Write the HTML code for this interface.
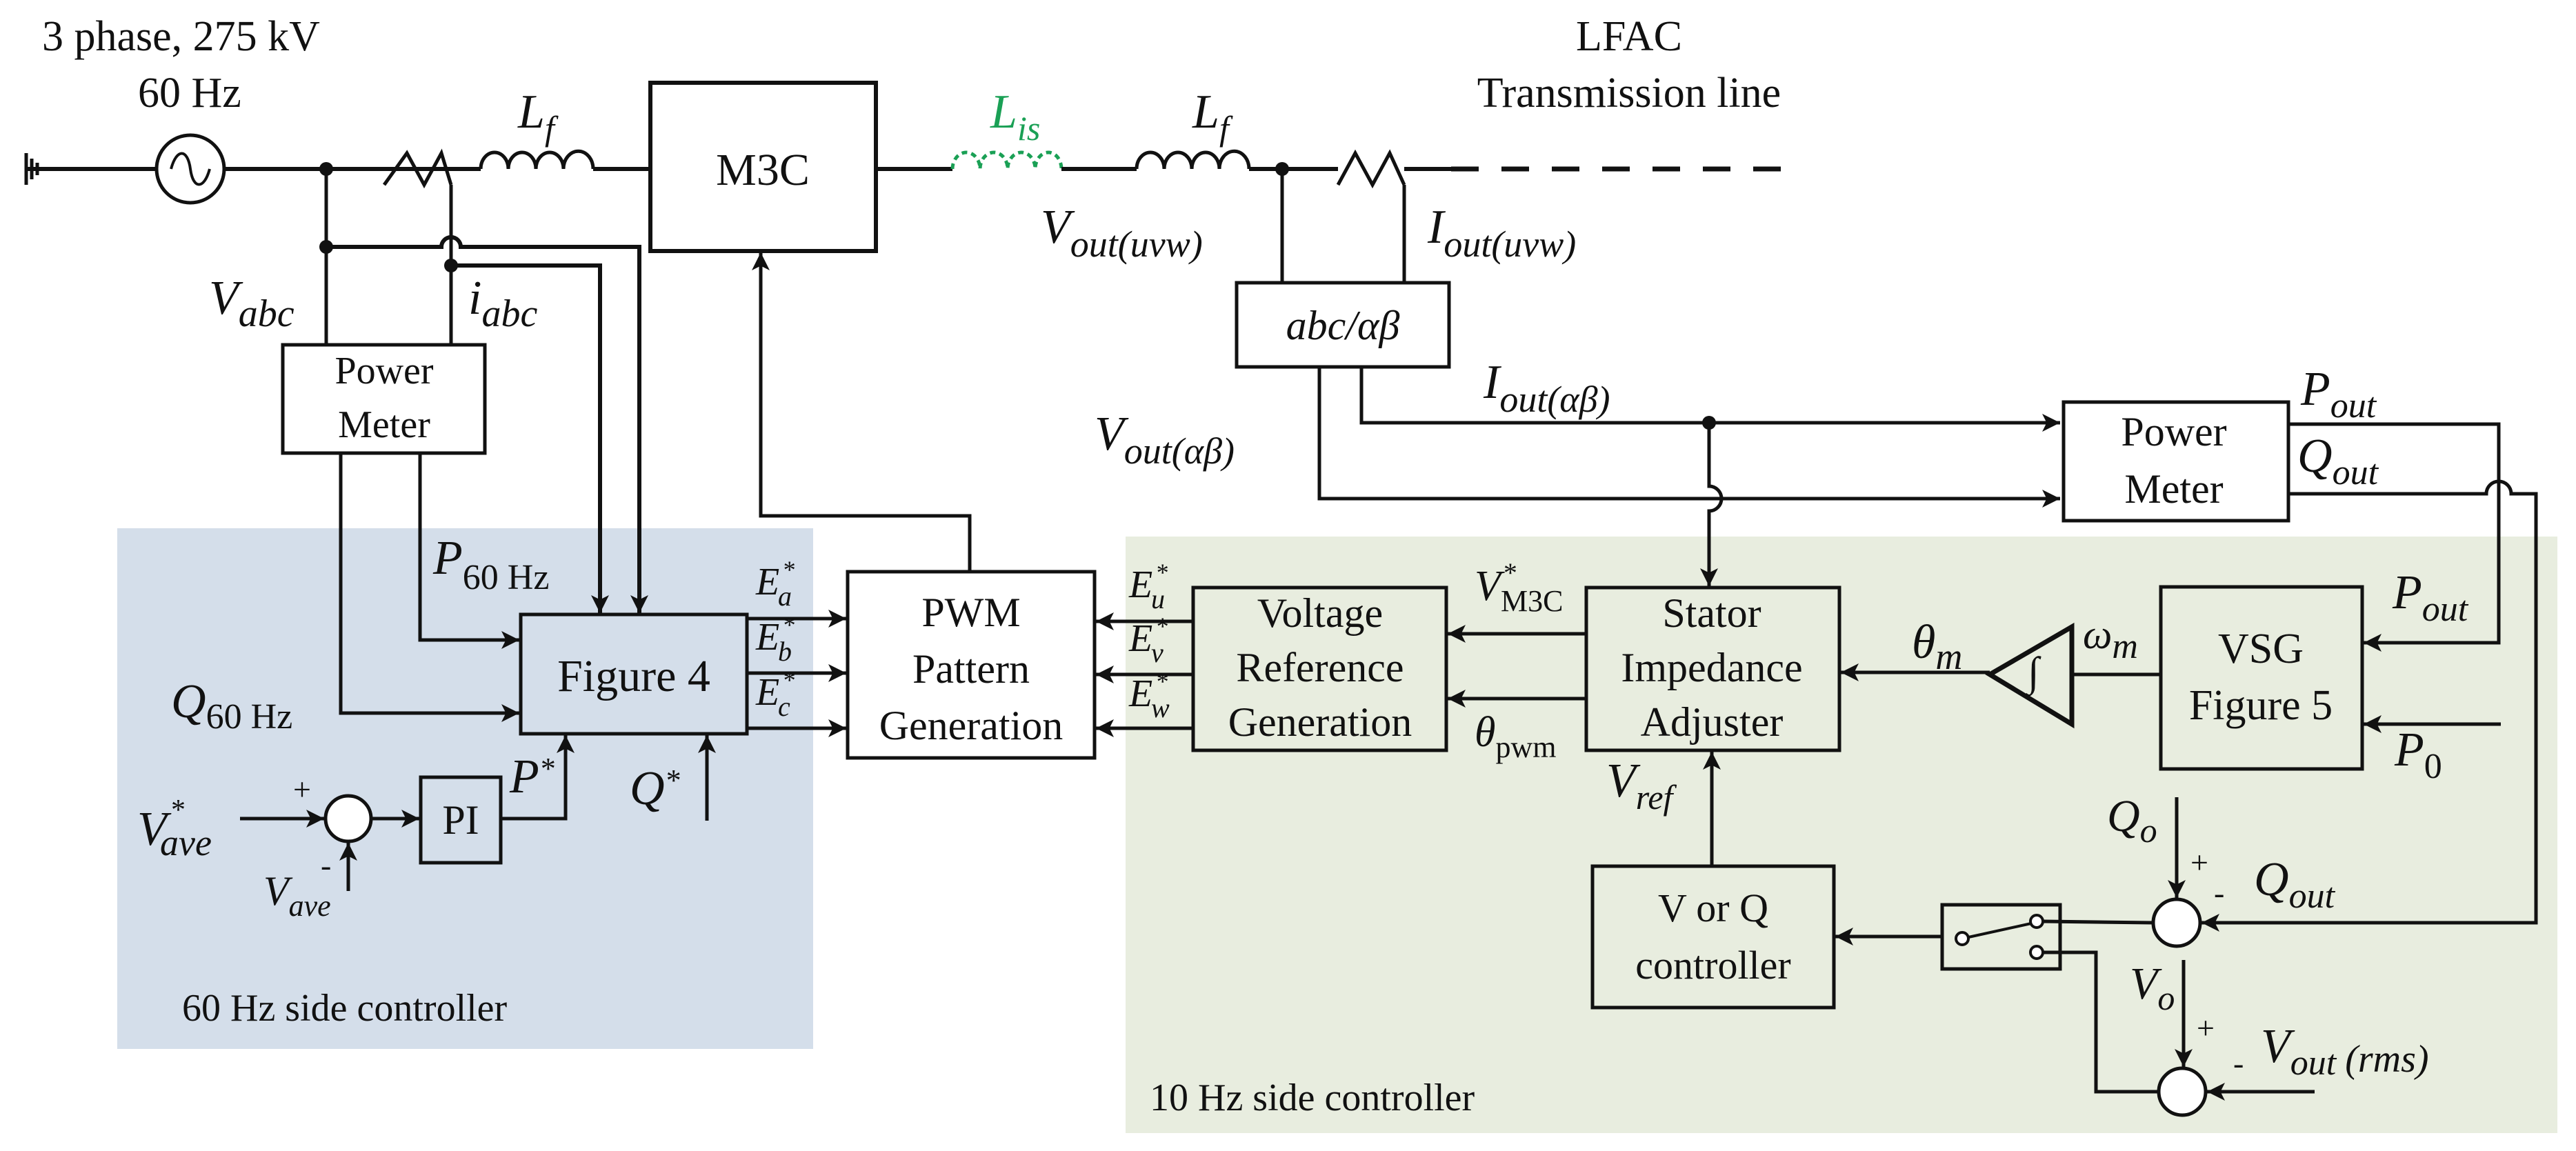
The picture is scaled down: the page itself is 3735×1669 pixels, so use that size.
<!DOCTYPE html>
<html><head><meta charset="utf-8"><style>
html,body{margin:0;padding:0;background:#fff}
svg{display:block}
text{font-family:"Liberation Serif","DejaVu Serif",serif;fill:#111}
.i{font-style:italic}
</style></head><body>
<svg width="3735" height="1669" viewBox="0 0 3735 1669" xmlns="http://www.w3.org/2000/svg" font-family="Liberation Serif, DejaVu Serif, serif">
<defs>
<marker id="a" viewBox="0 0 10 10" refX="10" refY="5" markerWidth="34" markerHeight="26" markerUnits="userSpaceOnUse" orient="auto"><path d="M0,0 L10,5 L0,10 L2.5,5 z" fill="#111"/></marker>
</defs>
<rect x="170" y="766" width="1009" height="755" fill="#d4deea"/>
<rect x="1632" y="778" width="2076" height="865" fill="#e8eddf"/>

<g stroke="#111" stroke-width="5" fill="none">
<line x1="38" y1="222" x2="38" y2="268"/><line x1="46" y1="230" x2="46" y2="260"/><line x1="54" y1="236" x2="54" y2="254"/>
<line x1="38" y1="245" x2="226" y2="245" stroke-width="6"/>
<circle cx="276" cy="245" r="49"/>
<path d="M248,245 C256,215 272,215 276,245 C280,275 296,275 304,245" stroke-width="4"/>
<line x1="325" y1="245" x2="697" y2="245" stroke-width="6"/>
<path d="M557,268 L590,222 L615,268 L640,222 L654,268"/>
<path d="M697,245 a20,24 0 0 1 40,0 a20,24 0 0 1 40,0 a20,24 0 0 1 40,0 a20,24 0 0 1 43,0" stroke-width="5"/>
<line x1="860" y1="245" x2="943" y2="245" stroke-width="6"/>
<rect x="943" y="120" width="327" height="244" stroke-width="6"/>
<line x1="1270" y1="245" x2="1381" y2="245" stroke-width="6"/>
<path d="M1381,245 a20,24 0 0 1 40,0 a20,24 0 0 1 40,0 a20,24 0 0 1 40,0 a19,24 0 0 1 38,0" stroke="#1aa055" stroke-dasharray="8,6" stroke-width="5"/>
<line x1="1539" y1="245" x2="1648" y2="245" stroke-width="6"/>
<path d="M1648,245 a20,24 0 0 1 40,0 a20,24 0 0 1 40,0 a20,24 0 0 1 40,0 a20,24 0 0 1 43,0"/>
<line x1="1811" y1="245" x2="1940" y2="245" stroke-width="6"/>
<path d="M1940,268 L1965,222 L1990,268 L2015,222 L2036,268"/>
<line x1="2036" y1="245" x2="2104" y2="245" stroke-width="6"/>
<line x1="2104" y1="245" x2="2614" y2="245" stroke-width="7" stroke-dasharray="40,33"/>

<line x1="473" y1="245" x2="473" y2="500"/>
<line x1="654" y1="268" x2="654" y2="500"/>
<path d="M473,358 H640 a14,14 0 0 1 28,0 H927 V889" marker-end="url(#a)" stroke-width="6"/>
<path d="M654,385 H870 V889" marker-end="url(#a)" stroke-width="6"/>
<rect x="410" y="500" width="293" height="157"/>
<path d="M609,657 V928 H753" marker-end="url(#a)"/>
<path d="M494,657 V1034 H753" marker-end="url(#a)"/>

<rect x="755" y="891" width="328" height="173"/>
<line x1="1083" y1="897" x2="1227" y2="897" marker-end="url(#a)"/>
<line x1="1083" y1="976" x2="1227" y2="976" marker-end="url(#a)"/>
<line x1="1083" y1="1056" x2="1227" y2="1056" marker-end="url(#a)"/>
<rect x="1229" y="829" width="358" height="270" fill="#fff"/>
<path d="M1406,829 V748 H1103 V366" marker-end="url(#a)"/>
<line x1="348" y1="1187" x2="470" y2="1187" marker-end="url(#a)"/>
<circle cx="505" cy="1187" r="33" fill="#fff"/>
<line x1="505" y1="1292" x2="505" y2="1222" marker-end="url(#a)"/>
<line x1="538" y1="1187" x2="608" y2="1187" marker-end="url(#a)"/>
<rect x="610" y="1127" width="116" height="124"/>
<path d="M726,1187 H820 V1066" marker-end="url(#a)"/>
<line x1="1025" y1="1190" x2="1025" y2="1066" marker-end="url(#a)"/>

<line x1="1859" y1="245" x2="1859" y2="410"/>
<line x1="2036" y1="268" x2="2036" y2="410"/>
<rect x="1793" y="410" width="308" height="122"/>
<path d="M1974,532 V613 H2987" marker-end="url(#a)"/>
<path d="M1913,532 V723 H2987" marker-end="url(#a)"/>
<path d="M2478,613 V705 a18,18 0 0 1 0,36 V850" marker-end="url(#a)"/>
<rect x="2992" y="583" width="326" height="172"/>
<path d="M3318,615 H3623 V932 H3427" marker-end="url(#a)"/>
<path d="M3318,716 H3605 a18,18 0 0 1 36,0 H3677 V1338 H3192" marker-end="url(#a)"/>

<rect x="1730" y="852" width="367" height="236"/>
<line x1="1730" y1="901" x2="1589" y2="901" marker-end="url(#a)"/>
<line x1="1730" y1="978" x2="1589" y2="978" marker-end="url(#a)"/>
<line x1="1730" y1="1056" x2="1589" y2="1056" marker-end="url(#a)"/>
<rect x="2300" y="852" width="367" height="236"/>
<line x1="2300" y1="919" x2="2099" y2="919" marker-end="url(#a)"/>
<line x1="2300" y1="1013" x2="2099" y2="1013" marker-end="url(#a)"/>
<line x1="2885" y1="975" x2="2669" y2="975" marker-end="url(#a)"/>
<path d="M2885,978 L3004,909 L3004,1050 Z" stroke-width="7"/>
<line x1="3004" y1="978" x2="3133" y2="978"/>
<rect x="3133" y="851" width="292" height="264"/>
<line x1="3626" y1="1050" x2="3427" y2="1050" marker-end="url(#a)"/>
<line x1="2482" y1="1256" x2="2482" y2="1090" marker-end="url(#a)"/>
<rect x="2309" y="1256" width="350" height="205"/>
<line x1="2816" y1="1358" x2="2661" y2="1358" marker-end="url(#a)"/>
<rect x="2816" y="1312" width="171" height="93"/>
<line x1="2845" y1="1361" x2="2945" y2="1339" stroke-width="4"/>
<line x1="2962" y1="1336" x2="3122" y2="1338"/>
<path d="M2962,1381 H3039 V1583 H3128"/>
<circle cx="3156" cy="1338" r="34" fill="#fff"/>
<line x1="3156" y1="1156" x2="3156" y2="1302" marker-end="url(#a)"/>
<circle cx="3164" cy="1583" r="34" fill="#fff"/>
<line x1="3166" y1="1392" x2="3166" y2="1547" marker-end="url(#a)"/>
<line x1="3356" y1="1583" x2="3200" y2="1583" marker-end="url(#a)"/>
</g>
<g fill="#fff" stroke="#111" stroke-width="4">
<circle cx="2845" cy="1361" r="9"/><circle cx="2953" cy="1336" r="9"/><circle cx="2953" cy="1381" r="9"/>
</g>
<g fill="#111">
<circle cx="473" cy="245" r="10"/><circle cx="473" cy="358" r="10"/><circle cx="654" cy="385" r="10"/>
<circle cx="1859" cy="245" r="10"/><circle cx="2478" cy="613" r="10"/>
</g>
<text x="2940" y="994" font-size="60" class="i">∫</text>

<g font-size="62">
<text x="61" y="73">3 phase, 275 kV</text>
<text x="200" y="155">60 Hz</text>
<text x="2362" y="73" text-anchor="middle">LFAC</text>
<text x="2362" y="155" text-anchor="middle">Transmission line</text>
<text x="1106" y="268" text-anchor="middle" font-size="66">M3C</text>
<text x="557" y="556" text-anchor="middle" font-size="56">Power</text>
<text x="557" y="634" text-anchor="middle" font-size="56">Meter</text>
<text x="3152" y="646" text-anchor="middle" font-size="60">Power</text>
<text x="3152" y="729" text-anchor="middle" font-size="60">Meter</text>
<text x="919" y="1002" text-anchor="middle" font-size="66">Figure 4</text>
<text x="1408" y="908" text-anchor="middle" font-size="60">PWM</text>
<text x="1408" y="990" text-anchor="middle" font-size="60">Pattern</text>
<text x="1408" y="1072" text-anchor="middle" font-size="60">Generation</text>
<text x="1914" y="909" text-anchor="middle" font-size="60">Voltage</text>
<text x="1914" y="988" text-anchor="middle" font-size="60">Reference</text>
<text x="1914" y="1067" text-anchor="middle" font-size="60">Generation</text>
<text x="2482" y="909" text-anchor="middle" font-size="60">Stator</text>
<text x="2482" y="988" text-anchor="middle" font-size="60">Impedance</text>
<text x="2482" y="1067" text-anchor="middle" font-size="60">Adjuster</text>
<text x="3278" y="961" text-anchor="middle" font-size="62">VSG</text>
<text x="3278" y="1043" text-anchor="middle" font-size="62">Figure 5</text>
<text x="2484" y="1336" text-anchor="middle" font-size="58">V or Q</text>
<text x="2484" y="1419" text-anchor="middle" font-size="58">controller</text>
<text x="668" y="1209" text-anchor="middle" font-size="60">PI</text>
<text x="264" y="1480" font-size="56">60 Hz side controller</text>
<text x="1667" y="1610" font-size="56">10 Hz side controller</text>
<text x="1947" y="492" text-anchor="middle" class="i" font-size="60">abc/αβ</text>
</g>

<g font-size="70" class="i">
<text x="751" y="185">L<tspan font-size="50" dy="18">f</tspan></text>
<text x="1436" y="185" style="fill:#1aa055">L<tspan font-size="50" dy="18" style="fill:#1aa055">is</tspan></text>
<text x="1729" y="185">L<tspan font-size="50" dy="18">f</tspan></text>
<text x="1509" y="352">V<tspan font-size="54" dy="20">out(uvw)</tspan></text>
<text x="2070" y="352">I<tspan font-size="54" dy="20">out(uvw)</tspan></text>
<text x="303" y="455">V<tspan font-size="56" dy="18">abc</tspan></text>
<text x="679" y="455">i<tspan font-size="56" dy="18">abc</tspan></text>
<text x="2151" y="577">I<tspan font-size="54" dy="20">out(αβ)</tspan></text>
<text x="1587" y="652">V<tspan font-size="54" dy="20">out(αβ)</tspan></text>
<text x="3336" y="587">P<tspan font-size="52" dy="18">out</tspan></text>
<text x="3331" y="684">Q<tspan font-size="52" dy="18">out</tspan></text>
<text x="3469" y="882">P<tspan font-size="52" dy="18">out</tspan></text>
<text x="3472" y="1110">P<tspan font-size="52" dy="18" style="font-style:normal">0</tspan></text>
<text x="628" y="832">P<tspan font-size="52" dy="22" style="font-style:normal">60 Hz</tspan></text>
<text x="248" y="1040">Q<tspan font-size="52" dy="16" style="font-style:normal">60 Hz</tspan></text>
<text x="199" y="1225">V</text>
<text x="246" y="1188" font-size="42">*</text>
<text x="232" y="1240" font-size="54">ave</text>
<text x="382" y="1312" font-size="60">V<tspan font-size="44" dy="16">ave</tspan></text>
<text x="739" y="1149">P<tspan font-size="44" dy="-20">*</tspan></text>
<text x="913" y="1166">Q<tspan font-size="44" dy="-20">*</tspan></text>
</g>
<g font-size="56" class="i">
<text x="1096" y="862">E</text><text x="1134" y="838" font-size="36">*</text><text x="1128" y="878" font-size="40">a</text>
<text x="1096" y="942">E</text><text x="1134" y="918" font-size="36">*</text><text x="1128" y="958" font-size="40">b</text>
<text x="1096" y="1022">E</text><text x="1134" y="998" font-size="36">*</text><text x="1128" y="1038" font-size="40">c</text>
<text x="1637" y="866">E</text><text x="1675" y="842" font-size="36">*</text><text x="1669" y="882" font-size="40">u</text>
<text x="1637" y="944">E</text><text x="1675" y="920" font-size="36">*</text><text x="1669" y="960" font-size="40">v</text>
<text x="1637" y="1024">E</text><text x="1675" y="1000" font-size="36">*</text><text x="1669" y="1040" font-size="40">w</text>
<text x="2138" y="870" font-size="62">V</text><text x="2178" y="844" font-size="40">*</text><text x="2176" y="886" font-size="44" style="font-style:normal">M3C</text>
<text x="2138" y="1082" font-size="62">θ<tspan font-size="44" dy="16" style="font-style:normal">pwm</tspan></text>
<text x="2329" y="1155" font-size="70">V<tspan font-size="50" dy="18">ref</tspan></text>
<text x="2772" y="954" font-size="70">θ<tspan font-size="54" dy="16">m</tspan></text>
<text x="3020" y="940" font-size="60">ω<tspan font-size="52" dy="14">m</tspan></text>
<text x="3055" y="1205" font-size="66">Q<tspan font-size="50" dy="16">o</tspan></text>
<text x="3268" y="1298" font-size="70">Q<tspan font-size="52" dy="18">out</tspan></text>
<text x="3088" y="1448" font-size="66">V<tspan font-size="50" dy="16">o</tspan></text>
<text x="3278" y="1540" font-size="70">V<tspan font-size="52" dy="18">out </tspan><tspan font-size="56" dy="-4">(rms)</tspan></text>
</g>
<g font-size="46">
<text x="425" y="1160">+</text><text x="465" y="1270">-</text>
<text x="3176" y="1266">+</text><text x="3210" y="1310">-</text>
<text x="3185" y="1506">+</text><text x="3238" y="1557">-</text>
</g>
</svg>
</body></html>
